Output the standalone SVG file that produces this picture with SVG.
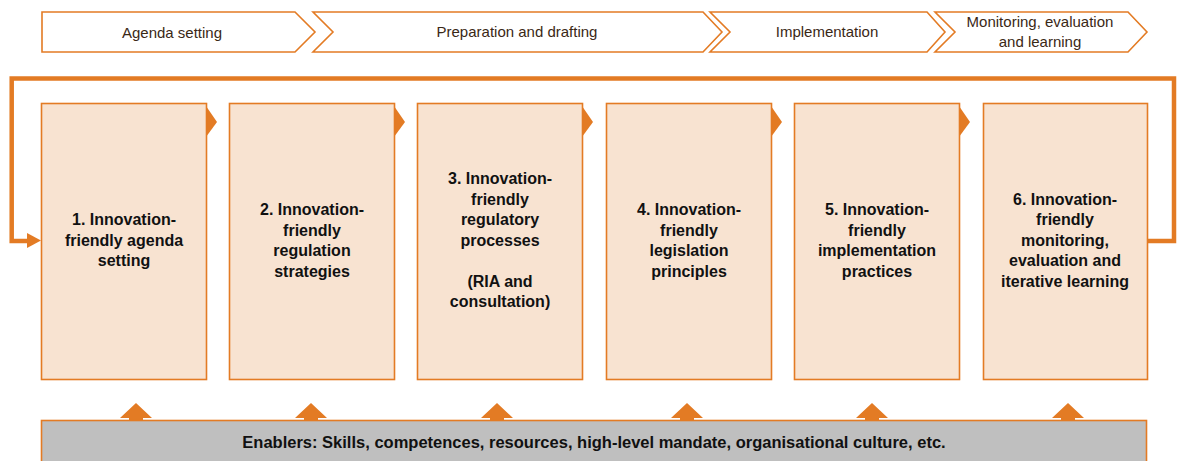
<svg xmlns="http://www.w3.org/2000/svg" width="1178" height="461" viewBox="0 0 1178 461">
  <style>
    .phase { fill: #ffffff; stroke: #E37B24; stroke-width: 1.6; }
    .phase-label { font-family: "Liberation Sans", Arial, sans-serif; font-size: 15px; fill: #3a2816; text-anchor: middle; }
    .step { fill: #F8E3D1; stroke: #E37B24; stroke-width: 1.6; }
    .step-label { font-family: "Liberation Sans", Arial, sans-serif; font-weight: bold; font-size: 16px; fill: #111111; text-anchor: middle; }
    .flow { fill: #E37B24; }
    .loop { fill: none; stroke: #E37B24; stroke-width: 4.5; }
    .enabler { fill: #BFBFBF; stroke: #E37B24; stroke-width: 1.6; }
    .enabler-label { font-family: "Liberation Sans", Arial, sans-serif; font-weight: bold; font-size: 16.5px; fill: #111111; text-anchor: middle; }
  </style>

  <!-- Policy-cycle phase banner -->
  <g id="phase-agenda">
    <polygon class="phase" points="42,12 295,12 315,32 295,52 42,52"/>
    <text class="phase-label" x="172" y="37.5">Agenda setting</text>
  </g>
  <g id="phase-preparation">
    <polygon class="phase" points="313,12 703,12 722,32 703,52 313,52 333,32"/>
    <text class="phase-label" x="517" y="36.5">Preparation and drafting</text>
  </g>
  <g id="phase-implementation">
    <polygon class="phase" points="710,12 927,12 945,32 927,52 710,52 730,32"/>
    <text class="phase-label" x="827" y="36.5">Implementation</text>
  </g>
  <g id="phase-monitoring">
    <polygon class="phase" points="935,12 1128,12 1147,32 1128,52 935,52 955,32"/>
    <text class="phase-label" x="1040" y="27">Monitoring, evaluation</text>
    <text class="phase-label" x="1040" y="47">and learning</text>
  </g>

  <!-- Connectors: feedback loop, step-to-step arrows, enabler arrows -->
  <g id="connectors">
    <polyline class="loop" points="1147,241 1174,241 1174,78.5 11.7,78.5 11.7,241 28,241"/>
    <polygon class="flow" points="27,233 41,240.5 27,248"/>
    <polygon class="flow" points="206,106 217,122 206,137"/>
    <polygon class="flow" points="394,106 405,122 394,137"/>
    <polygon class="flow" points="582,106 593,122 582,137"/>
    <polygon class="flow" points="771,106 782,122 771,137"/>
    <polygon class="flow" points="959,106 970,122 959,137"/>
    <polygon class="flow" points="120,418 136,403 152,418 143,418 143,421 129,421 129,418"/>
    <polygon class="flow" points="295,418 311,403 327,418 318,418 318,421 304,421 304,418"/>
    <polygon class="flow" points="481,418 497,403 513,418 504,418 504,421 490,421 490,418"/>
    <polygon class="flow" points="671,418 687,403 703,418 694,418 694,421 680,421 680,418"/>
    <polygon class="flow" points="856,418 872,403 888,418 879,418 879,421 865,421 865,418"/>
    <polygon class="flow" points="1052,418 1068,403 1084,418 1075,418 1075,421 1061,421 1061,418"/>
  </g>

  <!-- Policy-cycle steps -->
  <g id="step-1">
    <rect class="step" x="41.5" y="103.5" width="165" height="276"/>
    <text class="step-label" x="124" y="225">1. Innovation-</text>
    <text class="step-label" x="124" y="245.5">friendly agenda</text>
    <text class="step-label" x="124" y="266">setting</text>
  </g>
  <g id="step-2">
    <rect class="step" x="229.5" y="103.5" width="165" height="276"/>
    <text class="step-label" x="312" y="215">2. Innovation-</text>
    <text class="step-label" x="312" y="235.5">friendly</text>
    <text class="step-label" x="312" y="256">regulation</text>
    <text class="step-label" x="312" y="276.5">strategies</text>
  </g>
  <g id="step-3">
    <rect class="step" x="417.5" y="103.5" width="165" height="276"/>
    <text class="step-label" x="500" y="184">3. Innovation-</text>
    <text class="step-label" x="500" y="204.5">friendly</text>
    <text class="step-label" x="500" y="225">regulatory</text>
    <text class="step-label" x="500" y="245.5">processes</text>
    <text class="step-label" x="500" y="286.5">(RIA and</text>
    <text class="step-label" x="500" y="307">consultation)</text>
  </g>
  <g id="step-4">
    <rect class="step" x="606.5" y="103.5" width="165" height="276"/>
    <text class="step-label" x="689" y="215">4. Innovation-</text>
    <text class="step-label" x="689" y="235.5">friendly</text>
    <text class="step-label" x="689" y="256">legislation</text>
    <text class="step-label" x="689" y="276.5">principles</text>
  </g>
  <g id="step-5">
    <rect class="step" x="794.5" y="103.5" width="165" height="276"/>
    <text class="step-label" x="877" y="215">5. Innovation-</text>
    <text class="step-label" x="877" y="235.5">friendly</text>
    <text class="step-label" x="877" y="256">implementation</text>
    <text class="step-label" x="877" y="276.5">practices</text>
  </g>
  <g id="step-6">
    <rect class="step" x="983.5" y="103.5" width="164" height="276"/>
    <text class="step-label" x="1065" y="204.5">6. Innovation-</text>
    <text class="step-label" x="1065" y="225">friendly</text>
    <text class="step-label" x="1065" y="245.5">monitoring,</text>
    <text class="step-label" x="1065" y="266">evaluation and</text>
    <text class="step-label" x="1065" y="286.5">iterative learning</text>
  </g>

  <!-- Enablers bar -->
  <g id="enablers">
    <rect class="enabler" x="41.5" y="420.5" width="1105" height="50"/>
    <text class="enabler-label" x="594" y="448">Enablers: Skills, competences, resources, high-level mandate, organisational culture, etc.</text>
  </g>
</svg>
